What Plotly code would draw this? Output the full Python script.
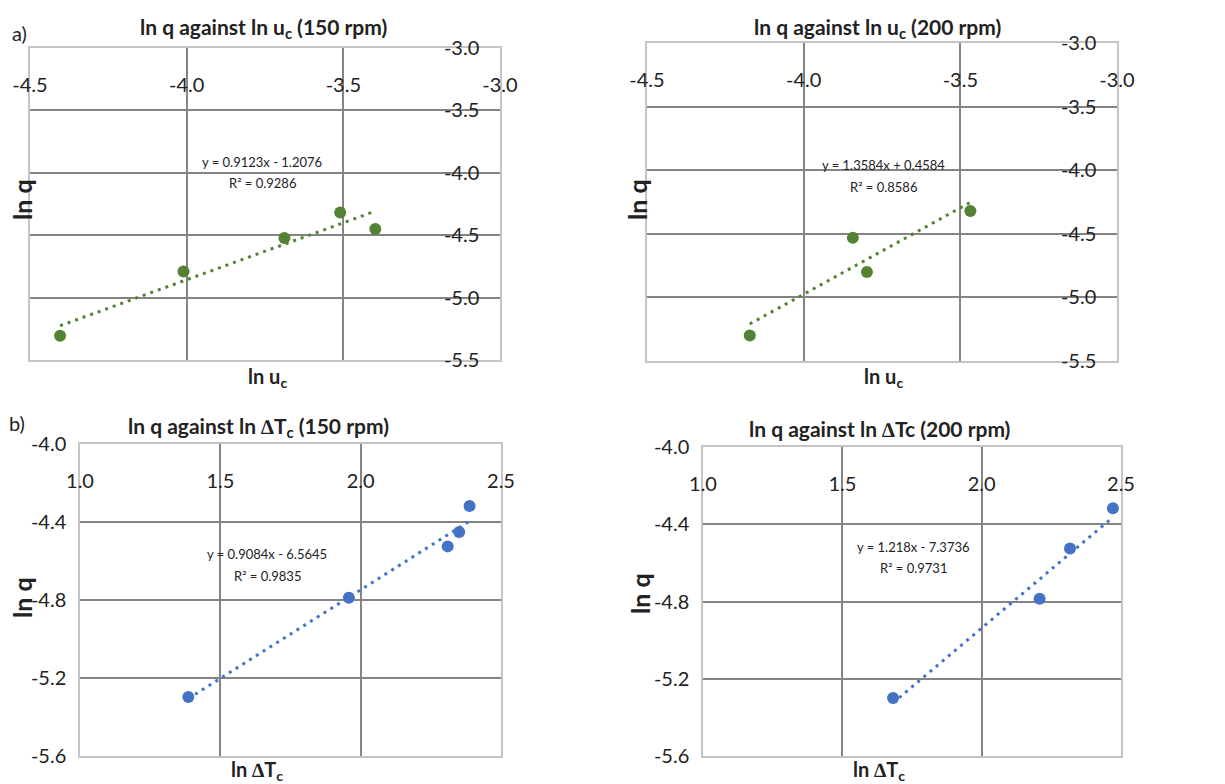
import plotly.graph_objects as go

W, H = 1225, 784

# ---------------- data ----------------
# a) ln q vs ln u_c
lnu_150 = [-4.404, -4.010, -3.688, -3.510, -3.398]
lnq_u_150 = [-5.305, -4.790, -4.522, -4.318, -4.450]
lnu_200 = [-4.172, -3.843, -3.798, -3.468]
lnq_u_200 = [-5.300, -4.532, -4.800, -4.320]

# b) ln q vs ln dTc
lndT_150 = [1.386, 1.958, 2.310, 2.351, 2.388]
lnq_T_150 = [-5.298, -4.788, -4.525, -4.451, -4.318]
lndT_200 = [1.682, 2.208, 2.317, 2.471]
lnq_T_200 = [-5.300, -4.786, -4.526, -4.317]

# trendline coefficients (slope, intercept, R2) as printed
fit_u_150 = (0.9123, -1.2076, 0.9286)
fit_u_200 = (1.3584, 0.4584, 0.8586)
fit_T_150 = (0.9084, -6.5645, 0.9835)
fit_T_200 = (1.218, -7.3736, 0.9731)

# tick values / labels
xt_u = [-4.5, -4.0, -3.5, -3.0]
xt_u_lab = ["-4.5", "-4.0", "-3.5", "-3.0"]
yt_u = [-5.5, -5.0, -4.5, -4.0, -3.5, -3.0]
yt_u_lab = ["-5.5", "-5.0", "-4.5", "-4.0", "-3.5", "-3.0"]
xt_T = [1.0, 1.5, 2.0, 2.5]
xt_T_lab = ["1.0", "1.5", "2.0", "2.5"]
yt_T = [-5.6, -5.2, -4.8, -4.4, -4.0]
yt_T_lab = ["-5.6", "-5.2", "-4.8", "-4.4", "-4.0"]

titles = [
    "<b>ln q against ln u<sub>c</sub> (150 rpm)</b>",
    "<b>ln q against ln u<sub>c</sub> (200 rpm)</b>",
    "<b>ln q against ln \u2206T<sub>c</sub> (150 rpm)</b>",
    "<b>ln q against ln \u2206Tc (200 rpm)</b>",
]
xtitles = ["<b>ln u<sub>c</sub></b>", "<b>ln u<sub>c</sub></b>",
           "<b>ln \u2206T<sub>c</sub></b>", "<b>ln \u2206T<sub>c</sub></b>"]
ytitle = "<b>ln q</b>"
eq_texts = [
    ("y = 0.9123x - 1.2076", "R\u00b2 = 0.9286"),
    ("y = 1.3584x + 0.4584", "R\u00b2 = 0.8586"),
    ("y = 0.9084x - 6.5645", "R\u00b2 = 0.9835"),
    ("y = 1.218x - 7.3736", "R\u00b2 = 0.9731"),
]

GREEN = "#548235"
BLUE = "#4472C4"
GRID = "#848484"
BORDER = "#c4c4c4"
TXT = "#222222"
FONT = "Lato"


def px(x):
    return x / W


def py(y):
    return 1 - y / H


fig = go.Figure()

panels = [
    dict(x=lnu_150, y=lnq_u_150, fit=fit_u_150, color=GREEN, ax="x", ay="y"),
    dict(x=lnu_200, y=lnq_u_200, fit=fit_u_200, color=GREEN, ax="x2", ay="y2"),
    dict(x=lndT_150, y=lnq_T_150, fit=fit_T_150, color=BLUE, ax="x3", ay="y3"),
    dict(x=lndT_200, y=lnq_T_200, fit=fit_T_200, color=BLUE, ax="x4", ay="y4"),
]

for p in panels:
    m, b, _ = p["fit"]
    xs = [min(p["x"]), max(p["x"])]
    ys = [m * v + b for v in xs]
    fig.add_trace(go.Scatter(x=xs, y=ys, mode="lines", xaxis=p["ax"], yaxis=p["ay"],
                             line=dict(color=p["color"], width=3, dash="3px,5px"),
                             hoverinfo="skip"))
    fig.add_trace(go.Scatter(x=p["x"], y=p["y"], mode="markers", xaxis=p["ax"], yaxis=p["ay"],
                             marker=dict(color=p["color"], size=12)))

# plot areas in pixels (left, right, top, bottom)
areas = [(30, 500, 48, 360), (647, 1117, 43, 361), (80, 501, 444, 756), (703, 1121, 447, 756)]
xranges = [[-4.5, -3.0], [-4.5, -3.0], [1.0, 2.5], [1.0, 2.5]]
yranges = [[-5.5, -3.0], [-5.5, -3.0], [-5.6, -4.0], [-5.6, -4.0]]
xticks = [(xt_u, xt_u_lab), (xt_u, xt_u_lab), (xt_T, xt_T_lab), (xt_T, xt_T_lab)]
yticks = [(yt_u, yt_u_lab), (yt_u, yt_u_lab), (yt_T, yt_T_lab), (yt_T, yt_T_lab)]

layout = {}
for i, (l, r, t, bt) in enumerate(areas):
    sfx = "" if i == 0 else str(i + 1)
    common = dict(showgrid=True, gridcolor=GRID, gridwidth=2, showline=True, linecolor=BORDER,
                  linewidth=1.5, mirror=True, zeroline=False, ticks="", automargin=False,
                  tickfont=dict(family=FONT, size=20, color=TXT), ticklabeloverflow="allow",
                  tickmode="array")
    layout["xaxis" + sfx] = dict(common, domain=[px(l), px(r)], range=xranges[i],
                                 tickvals=xticks[i][0], ticktext=xticks[i][1],
                                 side="top", ticklabelposition="inside",
                                 ticklabelstandoff=31, anchor="y" + sfx)
    if i < 2:
        layout["yaxis" + sfx] = dict(common, domain=[py(bt), py(t)], range=yranges[i],
                                     tickvals=yticks[i][0], ticktext=yticks[i][1],
                                     side="right", ticklabelposition="inside",
                                     ticklabelstandoff=22, anchor="x" + sfx)
    else:
        layout["yaxis" + sfx] = dict(common, domain=[py(bt), py(t)], range=yranges[i],
                                     tickvals=yticks[i][0], ticktext=yticks[i][1],
                                     side="left", ticklabelposition="outside",
                                     ticklabelstandoff=8, anchor="x" + sfx)

ann = []


def add_text(text, x, y, size, angle=0):
    ann.append(dict(text=text, x=px(x), y=py(y), xref="paper", yref="paper", showarrow=False,
                    xanchor="center", yanchor="middle", textangle=angle,
                    font=dict(family=FONT, size=size, color=TXT)))


# titles (center x, center y)
title_pos = [(263, 28), (877, 28), (258, 427), (879, 428)]
for (x, y), t in zip(title_pos, titles):
    add_text(t, x, y, 21)
# x axis titles
xt_pos = [(267, 377), (883, 377), (257, 770), (879, 770)]
for (x, y), t in zip(xt_pos, xtitles):
    add_text(t, x, y, 20)
# y axis titles
yt_pos = [(22, 200), (637, 200), (22, 598), (640, 594)]
for x, y in yt_pos:
    add_text(ytitle, x, y, 25, angle=-90)
# equations
eq_pos = [(262, 162, 183), (883, 165, 187), (267, 554, 576), (914, 547, 568)]
for (x, y1, y2), (e1, e2) in zip(eq_pos, eq_texts):
    add_text(e1, x, y1, 13)
    add_text(e2, x, y2, 13)
# panel letters
add_text("a)", 19, 33, 20)
add_text("b)", 17, 423, 20)

fig.update_layout(**layout)
fig.update_layout(width=W, height=H, margin=dict(l=0, r=0, t=0, b=0, autoexpand=False),
                  showlegend=False, paper_bgcolor="white", plot_bgcolor="white",
                  annotations=ann, font=dict(family=FONT, color=TXT))

fig.write_html("out.html", config={"displayModeBar": False},
               post_script="document.body.style.margin='0';")
